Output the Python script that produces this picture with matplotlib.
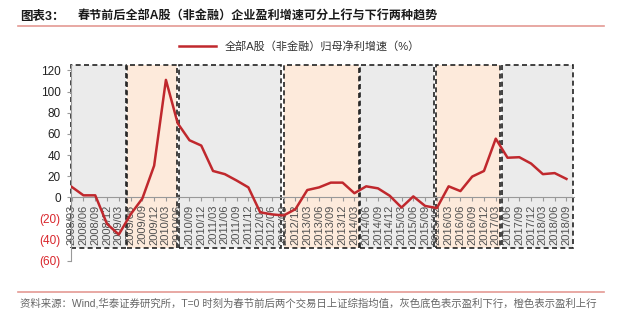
import matplotlib
matplotlib.use("Agg")
import matplotlib.pyplot as plt
from matplotlib.patches import Rectangle
from matplotlib.lines import Line2D

plt.rcParams['font.family'] = ['Liberation Sans', 'Noto Sans CJK SC', 'DejaVu Sans']

# quarterly periods
quarters = [f"{y}/{m:02d}" for y in range(2008, 2019) for m in (3, 6, 9, 12)][:43]
# 全部A股（非金融）归母净利增速（%）
growth = [10, 2, 2, -25, -35, -16, -1, 30, 111, 70,
          54, 49, 25, 22, 16, 9.5, -14, -16, -17, -11,
          7, 9.5, 14, 14, 4, 10.5, 8.6, 1.6, -9.5, 1,
          -8, -10, 10.5, 6, 19.7, 25, 55.5, 37.5, 38, 32,
          22, 23, 17.5]
# shaded phases (start, end in category index), 'down' = grey, 'up' = orange
phase_start = [-0.08, 4.67, 9.1, 18.0, 24.5, 30.9, 36.5]
phase_end = [4.62, 8.95, 17.8, 24.42, 30.8, 36.38, 42.53]
phase_kind = ['down', 'up', 'down', 'up', 'down', 'up', 'down']
yticks = [-60, -40, -20, 0, 20, 40, 60, 80, 100, 120]

fig = plt.figure(figsize=(6.3, 3.22), dpi=100)
ax = fig.add_axes([70.5/630, 61/322, 503/630, 197/322])

box_lo, box_hi = -48, 125.4
for s, e, k in zip(phase_start, phase_end, phase_kind):
    fc = '#ebebeb' if k == 'down' else '#fdeadb'
    ax.add_patch(Rectangle((s, box_lo), e - s, box_hi - box_lo, facecolor=fc,
                           edgecolor='#222222', lw=1.2, linestyle=(0, (3, 2)),
                           zorder=0, clip_on=False))

x = list(range(len(quarters)))
ax.plot(x, growth, color='#c0282d', lw=1.8, zorder=3)

ax.set_xlim(-0.1, 42.6)
ax.set_ylim(-60, 126)

for sp in ('top', 'right'):
    ax.spines[sp].set_visible(False)
ax.spines['bottom'].set_position(('data', 0))
ax.spines['bottom'].set_color('#999999')
ax.spines['left'].set_color('#999999')
ax.spines['left'].set_bounds(-60, 125)
ax.patch.set_alpha(0)

ax.set_xticks(x)
ax.set_xticklabels(quarters, rotation=90, fontsize=8, color='#505050')
ax.tick_params(axis='x', direction='out', length=3, color='#999999', pad=2)

ylabels = [f"({abs(v)})" if v < 0 else str(v) for v in yticks]
ax.set_yticks(yticks)
ax.set_yticklabels(ylabels, fontsize=8.5)
ax.tick_params(axis='y', direction='out', length=3, color='#999999', pad=4)
for v, lab in zip(yticks, ax.get_yticklabels()):
    lab.set_color('#d9262c' if v < 0 else '#222222')

# title, rules, legend, source
fig.text(20/630, 1 - 17/322, "图表3：", fontsize=9, fontweight='bold', va='center', color='#1a1a1a')
fig.text(78/630, 1 - 17/322, "春节前后全部A股（非金融）企业盈利增速可分上行与下行两种趋势",
         fontsize=8.7, fontweight='bold', va='center', color='#1a1a1a')
fig.add_artist(Line2D([18/630, 604/630], [1 - 26/322, 1 - 26/322], color='#e49a94', lw=1.2))
fig.add_artist(Line2D([18/630, 604/630], [1 - 292/322, 1 - 292/322], color='#e49a94', lw=1.2))

handle = Line2D([], [], color='#c0282d', lw=1.8)
fig.legend([handle], ["全部A股（非金融）归母净利增速（%）"], loc='center',
           bbox_to_anchor=(0.475, 1 - 46/322), frameon=False, fontsize=8,
           handlelength=3.3, labelcolor='#333333')

fig.text(20/630, 1 - 303/322,
         "资料来源：Wind,华泰证券研究所，T=0 时刻为春节前后两个交易日上证综指均值，灰色底色表示盈利下行，橙色表示盈利上行",
         fontsize=7.5, va='center', color='#666666')

fig.savefig("out.png", dpi=100)
